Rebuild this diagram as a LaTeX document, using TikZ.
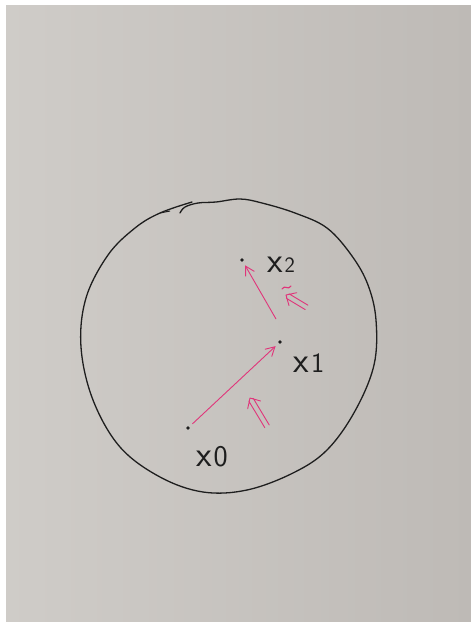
\documentclass[tikz,border=0pt]{standalone}
\usepackage{tikz}
\usetikzlibrary{arrows.meta, positioning}
\definecolor{paper}{HTML}{E3E2DF}
\definecolor{paperl}{HTML}{CFCCC8}
\definecolor{paperr}{HTML}{BEBAB6}
\definecolor{ink}{HTML}{1E1E1E}
\definecolor{pinkpen}{HTML}{E0357A}

\begin{document}
\begin{tikzpicture}[
  x=1pt, y=-1pt,
  pt/.style = {circle, fill=ink, inner sep=0pt, minimum size=3.8pt},
  lbl/.style = {font=\sffamily\fontsize{36}{36}\selectfont, text=ink, inner sep=0pt},
  arr/.style = {-{Straight Barb[length=9pt, width=10pt]}, line width=0.9pt, color=pinkpen,
    shorten <=4pt, shorten >=4pt},
  dbl/.style = {color=pinkpen, line width=0.9pt, line cap=round, line join=round}
]
  % photo of the sheet
  \useasboundingbox (0,0) rectangle (471,622);
  \fill[white] (0,0) rectangle (471,622);
  \shade[left color=paperl, middle color=paper, right color=paperr] (6,5) rectangle (471,622);

  % the hand-drawn circle
  \draw[ink, line width=1.3pt, line cap=round, line join=round]
    plot[smooth, tension=0.6] coordinates {
      (180,213) (185,207) (198,203) (216,202) (240,199) (262,203)
      (295,213) (327,228) (352,256) (368,285) (376,320) (374,365)
      (355,411) (327,450) (293,473) (247,490) (203,492) (160,477)
      (120,447) (93,400) (81,347) (86,298) (108,255) (135,228)
      (160,213) (192,202)};
  \draw[ink, line width=1pt] (160,213) -- (170,211);

  % points
  \node[pt] (x0) at (188,428) {};
  \node[pt] (x1) at (280,342) {};
  \node[pt] (x2) at (242,260) {};

  \node[lbl] (l0) at (212,457) {x\kern2pt{\fontsize{30}{30}\selectfont 0}};
  \node[lbl] (l1) at (309,363) {x\kern2pt{\fontsize{28}{28}\selectfont 1}};
  \node[lbl] (l2) at (281,265) {x\kern2pt{\fontsize{22}{22}\selectfont 2}};

  % steps
  \coordinate (s1) at (276,319);
  \draw[arr] (x0) -- (x1);
  \draw[arr, shorten <=0pt] (s1) -- (x2);

  % directions
  \coordinate (d0) at (250,398);
  \coordinate (d1) at (286,295);
  \draw[dbl, shift={(d0)}, rotate=-59]
    (2,-2.6) -- (33,-2.6) (2,2.6) -- (33,2.6) (8,-7.5) -- (0,0) -- (8,7.5);
  \draw[dbl, shift={(d1)}, rotate=-31]
    (2,-2.6) -- (24,-2.6) (2,2.6) -- (24,2.6) (8,-7.5) -- (0,0) -- (8,7.5);
  \draw[dbl, line width=1.1pt] (282,289) .. controls (285,284) and (288,291) .. (291,286);
\end{tikzpicture}
\end{document}
